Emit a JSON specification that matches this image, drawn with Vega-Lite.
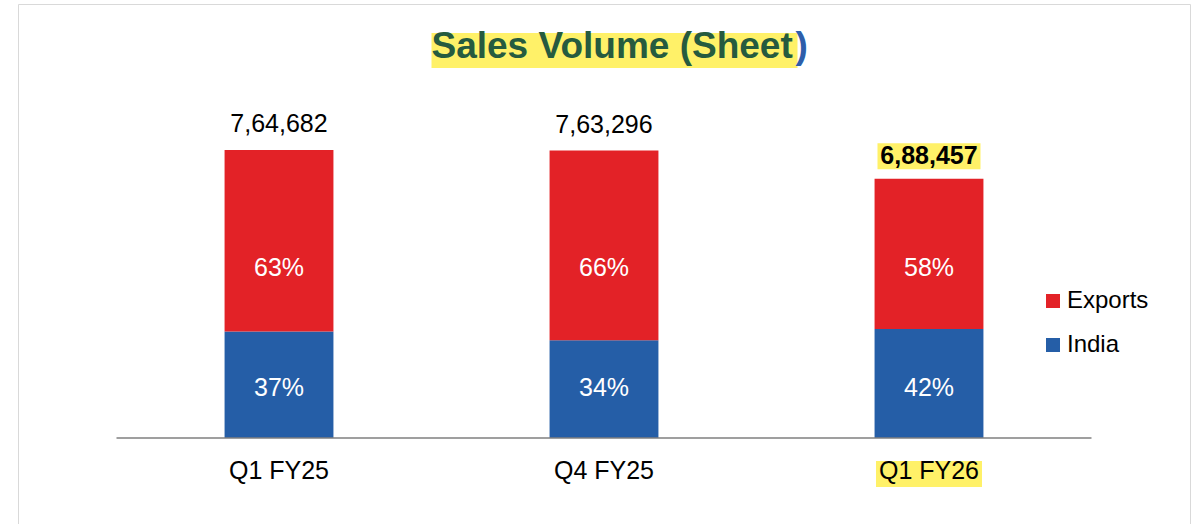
{
  "$schema": "https://vega.github.io/schema/vega-lite/v6.json",
  "width": 1172,
  "height": 520,
  "autosize": "none",
  "padding": {"left": 18, "top": 4, "right": 11, "bottom": 0},
  "background": "#FFFFFF",
  "config": {
    "font": "Liberation Sans",
    "view": {"stroke": "#D9D9D9", "strokeWidth": 1}
  },
  "datasets": {
    "segments": [
      {"quarter": "Q1 FY25", "market": "India", "volume": 282932, "share": "37%"},
      {"quarter": "Q1 FY25", "market": "Exports", "volume": 481750, "share": "63%"},
      {"quarter": "Q4 FY25", "market": "India", "volume": 259521, "share": "34%"},
      {"quarter": "Q4 FY25", "market": "Exports", "volume": 503775, "share": "66%"},
      {"quarter": "Q1 FY26", "market": "India", "volume": 289152, "share": "42%"},
      {"quarter": "Q1 FY26", "market": "Exports", "volume": 399305, "share": "58%"}
    ],
    "totals": [
      {"quarter": "Q1 FY25", "total": 764682, "label": "7,64,682"},
      {"quarter": "Q4 FY25", "total": 763296, "label": "7,63,296"},
      {"quarter": "Q1 FY26", "total": 688457, "label": "6,88,457"}
    ]
  },
  "layer": [
    {
      "data": {"name": "segments"},
      "mark": {"type": "bar"},
      "encoding": {
        "x": {"field": "quarter", "type": "nominal", "axis": null,
              "scale": {"domain": ["Q1 FY25", "Q4 FY25", "Q1 FY26"], "paddingInner": 0.665, "paddingOuter": 0.6356}},
        "y": {"field": "volume", "type": "quantitative", "stack": "zero", "axis": null,
              "scale": {"domain": [-228343, 1152335], "nice": false, "zero": false}},
        "color": {"field": "market", "type": "nominal",
                  "scale": {"domain": ["Exports", "India"], "range": ["#E32227", "#255EA7"]},
                  "legend": {"orient": "none", "legendX": 1023, "legendY": 285, "title": null,
                             "symbolType": "square", "symbolSize": 196, "symbolStrokeWidth": 0,
                             "labelFontSize": 24, "labelFont": "Liberation Sans", "labelColor": "#000000",
                             "rowPadding": 20, "padding": 0, "labelOffset": 2}},
        "order": {"field": "market", "sort": "descending"}
      }
    },
    {
      "data": {"values": [{}]},
      "mark": {"type": "bar", "color": "#FFF168", "width": 366, "xOffset": 10.5},
      "encoding": {
        "x": {"datum": "Q4 FY25", "type": "nominal", "axis": null},
        "y": {"datum": 1075336, "type": "quantitative", "axis": null},
        "y2": {"datum": 982406}
      }
    },
    {
      "data": {"values": [{}]},
      "mark": {"type": "text", "text": "Sales Volume (Sheet", "font": "Liberation Sans", "fontSize": 37, "fontWeight": "bold",
               "color": "#265B3F", "align": "left", "baseline": "alphabetic", "dx": -172.5},
      "encoding": {
        "x": {"datum": "Q4 FY25", "type": "nominal", "axis": null},
        "y": {"datum": 1008957, "type": "quantitative", "axis": null}
      }
    },
    {
      "data": {"values": [{}]},
      "mark": {"type": "text", "text": ")", "font": "Liberation Sans", "fontSize": 37, "fontWeight": "bold",
               "color": "#2E5EAA", "align": "left", "baseline": "alphabetic", "dx": 191.5},
      "encoding": {
        "x": {"datum": "Q4 FY25", "type": "nominal", "axis": null},
        "y": {"datum": 1008957, "type": "quantitative", "axis": null}
      }
    },
    {
      "data": {"name": "segments"},
      "transform": [{"filter": "datum.market === 'Exports'"}],
      "mark": {"type": "text", "fontSize": 25, "color": "#FFFFFF", "baseline": "alphabetic"},
      "encoding": {
        "x": {"field": "quarter", "type": "nominal", "axis": null},
        "y": {"datum": 430134, "type": "quantitative", "axis": null},
        "text": {"field": "share"}
      }
    },
    {
      "data": {"name": "segments"},
      "transform": [{"filter": "datum.market === 'India'"}],
      "mark": {"type": "text", "fontSize": 25, "color": "#FFFFFF", "baseline": "alphabetic"},
      "encoding": {
        "x": {"field": "quarter", "type": "nominal", "axis": null},
        "y": {"datum": 111516, "type": "quantitative", "axis": null},
        "text": {"field": "share"}
      }
    },
    {
      "data": {"name": "totals"},
      "transform": [{"filter": "datum.quarter === 'Q1 FY26'"}],
      "mark": {"type": "point", "shape": "M-1,-0.2524L1,-0.2524L1,0.2524L-1,0.2524Z", "size": 10609,
               "filled": true, "color": "#FFF168", "opacity": 1, "strokeWidth": 0, "yOffset": -22.5},
      "encoding": {
        "x": {"field": "quarter", "type": "nominal", "axis": null},
        "y": {"field": "total", "type": "quantitative", "axis": null}
      }
    },
    {
      "data": {"name": "totals"},
      "transform": [{"filter": "datum.quarter !== 'Q1 FY26'"}],
      "mark": {"type": "text", "fontSize": 25, "color": "#000000", "baseline": "alphabetic", "dy": -18},
      "encoding": {
        "x": {"field": "quarter", "type": "nominal", "axis": null},
        "y": {"field": "total", "type": "quantitative", "axis": null},
        "text": {"field": "label"}
      }
    },
    {
      "data": {"name": "totals"},
      "transform": [{"filter": "datum.quarter === 'Q1 FY26'"}],
      "mark": {"type": "text", "fontSize": 25, "fontWeight": "bold", "color": "#000000", "baseline": "alphabetic", "dy": -15},
      "encoding": {
        "x": {"field": "quarter", "type": "nominal", "axis": null},
        "y": {"field": "total", "type": "quantitative", "axis": null},
        "text": {"field": "label"}
      }
    },
    {
      "data": {"values": [{}]},
      "mark": {"type": "point", "shape": "M-1,-0.2453L1,-0.2453L1,0.2453L-1,0.2453Z", "size": 11236,
               "filled": true, "color": "#FFF168", "opacity": 1, "strokeWidth": 0, "yOffset": 36},
      "encoding": {
        "x": {"datum": "Q1 FY26", "type": "nominal", "axis": null},
        "y": {"datum": 0, "type": "quantitative", "axis": null}
      }
    },
    {
      "data": {"name": "totals"},
      "mark": {"type": "text", "fontSize": 25, "color": "#000000", "baseline": "alphabetic", "dy": 41.5},
      "encoding": {
        "x": {"field": "quarter", "type": "nominal", "axis": null},
        "y": {"datum": 0, "type": "quantitative", "axis": null},
        "text": {"field": "quarter"}
      }
    },
    {
      "data": {"values": [{}]},
      "mark": {"type": "rule", "color": "#7F7F7F", "strokeWidth": 1.5, "xOffset": -162.5, "x2Offset": 162.5},
      "encoding": {
        "x": {"datum": "Q1 FY25", "type": "nominal", "axis": null},
        "x2": {"datum": "Q1 FY26"},
        "y": {"datum": 0, "type": "quantitative", "axis": null}
      }
    }
  ]
}
